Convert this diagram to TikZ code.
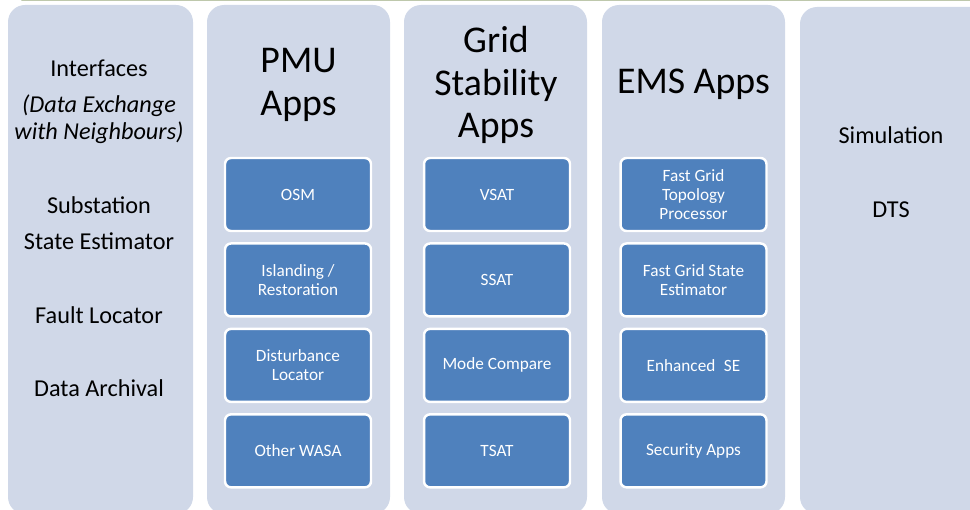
\documentclass[tikz,border=0pt]{standalone}
\usepackage{fontspec}
\setmainfont{Carlito}
\usepackage{tikz}
\usetikzlibrary{positioning}
\usepackage{xcolor}
\definecolor{panelgrey}{RGB}{208,216,232}
\definecolor{appblue}{RGB}{79,129,189}
\definecolor{rulegreen}{RGB}{190,200,172}

\tikzset{
  panel/.style={fill=panelgrey,rounded corners=0.34cm},
  appbox/.style={fill=appblue,draw=white,line width=1.4pt,rounded corners=0.12cm,
    minimum width=2.92cm,minimum height=1.46cm,text=white,align=center,
    font=\fontsize{9.8}{10.8}\selectfont},
  heading/.style={align=center,font=\fontsize{21.5}{24.2}\selectfont},
  sidetext/.style={align=center,font=\fontsize{13.8}{15.4}\selectfont}
}

\begin{document}
\begin{tikzpicture}[x=0.02cm,y=-0.02cm]
  \useasboundingbox (0,0) rectangle (970,510);
  \draw[rulegreen,line width=0.9pt,line cap=round] (22,0.6) -- (975,0.6);

  % the five columns
  \path[panel] (8,5) rectangle (193,514);
  \path[panel] (207,5) rectangle (390,514);
  \path[panel] (404,5) rectangle (587,514);
  \path[panel] (602,5) rectangle (785,514);
  \path[panel] (800,7) rectangle (1000,514);

  % left column
  \node[sidetext] (ifc) at (99,68) {Interfaces};
  \node[sidetext,font=\fontsize{13.8}{15.3}\selectfont\itshape]
    (dex) at (99,119) {(Data Exchange\\with Neighbours)};
  \node[sidetext] (sub) at (99,205) {Substation};
  \node[sidetext] (sse) at (99,241) {State Estimator};
  \node[sidetext] (flt) at (99,315) {Fault Locator};
  \node[sidetext] (arc) at (99,388) {Data Archival};

  % headings
  \node[heading] (pmu) at (298.5,85) {PMU\\Apps};
  \node[heading] (gsa) at (496,85) {Grid\\Stability\\Apps};
  \node[heading] (ems) at (693.5,84) {EMS Apps};

  % PMU apps
  \node[appbox] (osm) at (298,194.5) {OSM};
  \node[appbox,below=0.2cm of osm] (isl) {Islanding /\\Restoration};
  \node[appbox,below=0.2cm of isl] (dist) {Disturbance\\Locator};
  \node[appbox,below=0.2cm of dist] (wasa) {Other WASA};

  % grid stability apps
  \node[appbox] (vsat) at (497,194.5) {VSAT};
  \node[appbox,below=0.2cm of vsat] (ssat) {SSAT};
  \node[appbox,below=0.2cm of ssat] (mode) {Mode Compare};
  \node[appbox,below=0.2cm of mode] (tsat) {TSAT};

  % EMS apps
  \node[appbox] (topo) at (693.5,194.5) {Fast Grid\\Topology\\Processor};
  \node[appbox,below=0.2cm of topo] (fgse) {Fast Grid State\\Estimator};
  \node[appbox,below=0.2cm of fgse] (ese) {Enhanced\enspace SE};
  \node[appbox,below=0.2cm of ese] (sec) {Security Apps};

  % simulation column
  \node[sidetext] (sim) at (891,135) {Simulation};
  \node[sidetext] (dts) at (891,210) {DTS};
\end{tikzpicture}
\end{document}
